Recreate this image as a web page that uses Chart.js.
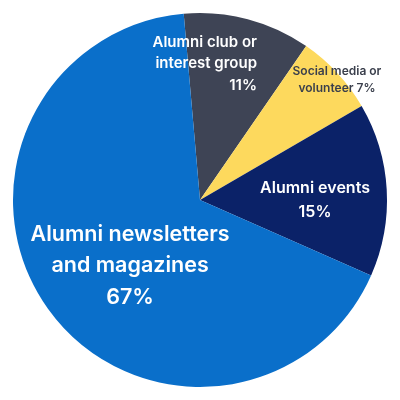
<!DOCTYPE html>
<html>
<head>
<meta charset="utf-8">
<script src="https://cdn.jsdelivr.net/npm/chart.js@4.4.1/dist/chart.umd.min.js"></script>
<style>
  html, body { margin: 0; padding: 0; background: #fff; }
  #wrap { width: 400px; height: 400px; }
</style>
</head>
<body>
<div id="wrap"><canvas id="pieChart"></canvas></div>
<script>
// data
const categories = ['Alumni club or interest group', 'Social media or volunteer', 'Alumni events', 'Alumni newsletters and magazines'];
const shares = [11, 7, 15, 67];
const sliceColors = ['#3e4455', '#fdd95d', '#0b2268', '#0a6fca'];
const labelLines = [
  ['Alumni club or', 'interest group', '11%'],
  ['Social media or', 'volunteer 7%'],
  ['Alumni events', '15%'],
  ['Alumni newsletters', 'and magazines', '67%'],
];

// where each label sits: angle from top (deg, clockwise), fraction of radius
const labelStyle = [
  { angle: 22.7, r: 0.79, size: 15, lh: 21.5, color: '#ffffff', align: 'right' },
  { angle: 48.7, r: 0.975, size: 12, lh: 17, color: '#3a3f4c', align: 'center' },
  { angle: 90, r: 0.615, size: 16, lh: 24, color: '#ffffff', align: 'center' },
  { angle: 226.7, r: 0.514, size: 21.5, lh: 31.5, color: '#ffffff', align: 'center' },
];

const sliceLabels = {
  id: 'sliceLabels',
  afterDatasetsDraw(chart) {
    const ctx = chart.ctx;
    const meta = chart.getDatasetMeta(0);
    meta.data.forEach((arc, i) => {
      const st = labelStyle[i];
      const a = (st.angle - 90) * Math.PI / 180;
      const px = arc.x + Math.cos(a) * arc.outerRadius * st.r;
      const py = arc.y + Math.sin(a) * arc.outerRadius * st.r;
      const lines = labelLines[i];
      ctx.save();
      ctx.font = '600 ' + st.size + 'px Inter, "Open Sans", sans-serif';
      ctx.fillStyle = st.color;
      ctx.textAlign = st.align;
      ctx.textBaseline = 'middle';
      const top = py - (lines.length - 1) * st.lh / 2;
      lines.forEach((t, k) => ctx.fillText(t, px, top + k * st.lh));
      ctx.restore();
    });
  }
};

new Chart(document.getElementById('pieChart'), {
  type: 'pie',
  data: {
    labels: categories,
    datasets: [{
      data: shares,
      backgroundColor: sliceColors,
      borderWidth: 0,
    }],
  },
  options: {
    responsive: true,
    maintainAspectRatio: false,
    animation: false,
    rotation: -5,
    layout: { padding: 13 },
    plugins: {
      legend: { display: false },
      tooltip: { enabled: false },
    },
  },
  plugins: [sliceLabels],
});
</script>
</body>
</html>
